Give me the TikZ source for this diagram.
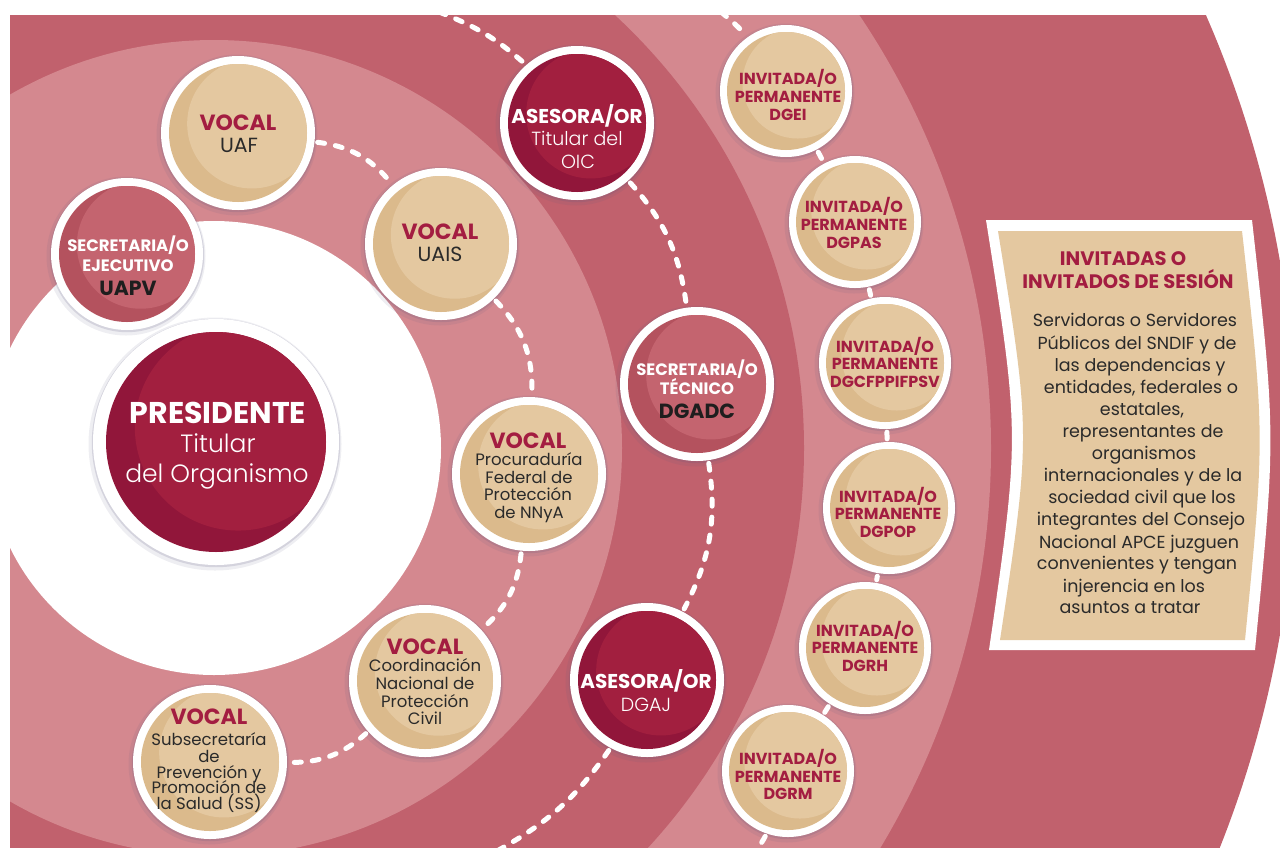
\documentclass[tikz,border=0pt]{standalone}
\usepackage{fontspec}
\setmainfont{Poppins}
\IfFontExistsTF{Poppins Light}{\newfontfamily\lightf{Poppins Light}}{\newfontfamily\lightf{Poppins}}
\usetikzlibrary{calc}
\definecolor{bdark}{HTML}{C1616D}
\definecolor{blight}{HTML}{D4888F}
\definecolor{beigeA}{HTML}{DBBA8C}
\definecolor{beigeB}{HTML}{E4C8A0}
\definecolor{marA}{HTML}{91163A}
\definecolor{marB}{HTML}{A21F3F}
\definecolor{roseA}{HTML}{B4525E}
\definecolor{roseB}{HTML}{C4646F}
\definecolor{tmar}{HTML}{A31D41}
\definecolor{tdark}{HTML}{2A2A2A}
\definecolor{tblack}{HTML}{1E1E1E}
\definecolor{boxfill}{HTML}{E4C8A0}
\definecolor{shc}{HTML}{5E5A80}
\tikzset{
 tx/.style={anchor=base, inner sep=0pt},
 vocal/.style={tx, text=tmar, font=\bfseries\fontsize{22}{22}\selectfont},
 vsub/.style={tx, text=tdark, font=\fontsize{20.5}{20.5}\selectfont},
 vsmall/.style={tx, text=tdark, font=\fontsize{16.5}{16.5}\selectfont},
 wbig/.style={tx, text=white, font=\bfseries\fontsize{30}{30}\selectfont},
 wmid/.style={tx, text=white, font=\lightf\fontsize{25}{25}\selectfont},
 wbold/.style={tx, text=white, font=\bfseries\fontsize{20}{20}\selectfont},
 wreg/.style={tx, text=white, font=\lightf\fontsize{19}{19}\selectfont},
 wsec/.style={tx, text=white, font=\bfseries\fontsize{16.5}{16.5}\selectfont},
 dsec/.style={tx, text=tblack, font=\bfseries\fontsize{20.5}{20.5}\selectfont},
 inv/.style={tx, text=tmar, font=\bfseries\fontsize{16}{16}\selectfont},
 btitle/.style={tx, text=tmar, font=\bfseries\fontsize{19.5}{19.5}\selectfont},
 bbody/.style={tx, text=tdark, font=\fontsize{17.5}{17.5}\selectfont},
 ringnode/.style={circle, fill=white, inner sep=0pt, minimum size=#1},
 dashline/.style={draw=white, line width=5pt, dash pattern=on 7pt off 11pt, line cap=round, shorten <=3pt, shorten >=3pt},
}
% name, x, y, R, ring, kind
\newcommand\bub[6]{%
  \fill[shc, opacity=.10] (#2-1,#3+2) circle[radius=#4+3.5];
  \fill[shc, opacity=.18] (#2,#3+1) circle[radius=#4+1.2];
  \node[ringnode=2*#4] (#1) at (#2,#3) {};
  \fill[#6A] (#1.center) circle[radius=#4-#5];
  \begin{scope}
    \clip (#1.center) circle[radius=#4-#5];
    \fill[#6B] ([shift={(0.18*#4,-0.12*#4)}]#1.center) circle[radius=0.84*#4];
  \end{scope}
}
\newcommand\tl[5]{\node[#1] (#2) at (#3,#4) {#5};}
\begin{document}
\begin{tikzpicture}[x=1pt,y=-1pt]
\useasboundingbox (0,0) rectangle (1280,847);
\begin{scope}
\clip (10,15) rectangle (1280,847);
% bands
\fill[bdark] (214,448) circle[radius=1082];
\fill[blight] (214,448) circle[radius=777];
\fill[bdark] (214,448) circle[radius=590];
\fill[blight] (214,448) circle[radius=408];
\fill[white] (214,448) circle[radius=227];

% bubbles
\bub{uapv}{127}{254}{76}{8}{rose}
\bub{uaf}{238}{133}{77}{8}{beige}
\bub{uais}{441}{244}{76}{8}{beige}
\bub{pres}{216}{442}{123}{13}{mar}
\bub{oic}{577}{123}{77}{8}{mar}
\bub{proc}{529}{474}{77}{8}{beige}
\bub{coord}{425}{681}{76}{8}{beige}
\bub{subs}{210}{762}{77}{8}{beige}
\bub{tec}{697}{384}{77}{8}{rose}
\bub{dgaj}{647}{680}{77}{8}{mar}
\bub{dgei}{786}{91}{66}{7}{beige}
\bub{dgpas}{855}{222}{66}{7}{beige}
\bub{dgcf}{885}{363}{66}{7}{beige}
\bub{dgpop}{889}{508}{66}{7}{beige}
\bub{dgrh}{865}{648}{66}{7}{beige}
\bub{dgrm}{788}{771}{66}{7}{beige}

% connectors
\coordinate (t1) at (439,12);
\coordinate (b1) at (497,851);
\coordinate (t2) at (721,12);
\coordinate (b2) at (756,851);
\draw[dashline] (uaf) to[bend left=22] (uais);
\draw[dashline] (uais) to[bend left=23] (proc);
\draw[dashline] (proc) to[bend left=21] (coord);
\draw[dashline] (coord) to[bend left=21] (subs);
\draw[dashline, shorten <=0pt] (t1) to[bend left=10] (oic);
\draw[dashline] (oic) to[bend left=17] (tec);
\draw[dashline] (tec) to[bend left=18] (dgaj);
\draw[dashline, shorten >=0pt] (dgaj) to[bend left=13] (b1);
\draw[dashline, shorten <=0pt] (t2) to[bend left=4] (dgei);
\draw[dashline] (dgei) -- (dgpas);
\draw[dashline] (dgpas) -- (dgcf);
\draw[dashline] (dgcf) -- (dgpop);
\draw[dashline] (dgpop) -- (dgrh);
\draw[dashline] (dgrh) -- (dgrm);
\draw[dashline, shorten >=0pt] (dgrm) to[bend left=3] (b2);

% texts
\tl{wsec}{uapv-1}{128}{251}{SECRETARIA/O}
\tl{wsec}{uapv-2}{128}{271}{EJECUTIVO}
\tl{dsec}{uapv-3}{128}{295}{UAPV}

\tl{vocal}{uaf-1}{238}{130}{VOCAL}
\tl{vsub}{uaf-2}{239}{152}{UAF}

\tl{vocal}{uais-1}{440}{239}{VOCAL}
\tl{vsub}{uais-2}{440}{261}{UAIS}

\tl{wbig}{pres-1}{218}{423.5}{PRESIDENTE}
\tl{wmid}{pres-2}{218}{452.5}{Titular}
\tl{wmid}{pres-3}{217}{482.5}{del Organismo}

\tl{wbold}{oic-1}{577}{123}{ASESORA/OR}
\tl{wreg}{oic-2}{577}{145.5}{Titular del}
\tl{wreg}{oic-3}{578}{168.5}{OIC}

\tl{vocal}{proc-1}{528}{448.5}{VOCAL}
\tl{vsmall}{proc-2}{529}{465}{Procuraduría}
\tl{vsmall}{proc-3}{529}{483}{Federal de}
\tl{vsmall}{proc-4}{528}{500}{Protección}
\tl{vsmall}{proc-5}{529}{518}{de NNyA}

\tl{vocal}{coord-1}{425}{654}{VOCAL}
\tl{vsmall}{coord-2}{425}{671}{Coordinación}
\tl{vsmall}{coord-3}{425}{689}{Nacional de}
\tl{vsmall}{coord-4}{425}{707}{Protección}
\tl{vsmall}{coord-5}{425}{724}{Civil}

\tl{vocal}{subs-1}{209}{724.5}{VOCAL}
\tl{vsmall}{subs-2}{209}{745}{Subsecretaría}
\tl{vsmall}{subs-3}{209}{762}{de}
\tl{vsmall}{subs-4}{209}{778}{Prevención y}
\tl{vsmall}{subs-5}{209}{793}{Promoción de}
\tl{vsmall}{subs-6}{209}{809}{la Salud (SS)}

\tl{wsec}{tec-1}{697}{375.5}{SECRETARIA/O}
\tl{wsec}{tec-2}{697}{394}{TÉCNICO}
\tl{dsec}{tec-3}{697}{418}{DGADC}

\tl{wbold}{dgaj-1}{646}{688.5}{ASESORA/OR}
\tl{wreg}{dgaj-2}{646}{711}{DGAJ}

\tl{inv}{dgei-1}{788}{84}{INVITADA/O}
\tl{inv}{dgei-2}{788}{102}{PERMANENTE}
\tl{inv}{dgei-3}{788}{120}{DGEI}
\tl{inv}{dgpas-1}{854}{212}{INVITADA/O}
\tl{inv}{dgpas-2}{854}{230}{PERMANENTE}
\tl{inv}{dgpas-3}{854}{248}{DGPAS}
\tl{inv}{dgcf-1}{885}{352}{INVITADA/O}
\tl{inv}{dgcf-2}{885}{369}{PERMANENTE}
\tl{inv}{dgcf-3}{885}{387}{DGCFPPIFPSV}
\tl{inv}{dgpop-1}{888}{502}{INVITADA/O}
\tl{inv}{dgpop-2}{888}{519}{PERMANENTE}
\tl{inv}{dgpop-3}{888}{537}{DGPOP}
\tl{inv}{dgrh-1}{865}{636}{INVITADA/O}
\tl{inv}{dgrh-2}{865}{653}{PERMANENTE}
\tl{inv}{dgrh-3}{865}{671}{DGRH}
\tl{inv}{dgrm-1}{788}{764}{INVITADA/O}
\tl{inv}{dgrm-2}{788}{782}{PERMANENTE}
\tl{inv}{dgrm-3}{788}{799}{DGRM}

% box
\fill[white] (986,220) -- (1252,220) .. controls (1276,435) .. (1255,650) -- (989,650) .. controls (1020,435) .. (986,220) -- cycle;
\fill[boxfill] (998,231) -- (1242,231) .. controls (1265,435) .. (1245,640) -- (1000,640) .. controls (1031,435) .. (998,231) -- cycle;

\tl{btitle}{bx-t1}{1123}{265}{INVITADAS O}
\tl{btitle}{bx-t2}{1128}{288}{INVITADOS DE SESIÓN}
\tl{bbody}{bx-1}{1135}{326}{Servidoras o Servidores}
\tl{bbody}{bx-2}{1137}{349}{Públicos del SNDIF y de}
\tl{bbody}{bx-3}{1140}{371}{las dependencias y}
\tl{bbody}{bx-4}{1141}{393}{entidades, federales o}
\tl{bbody}{bx-5}{1142}{415}{estatales,}
\tl{bbody}{bx-6}{1143}{437}{representantes de}
\tl{bbody}{bx-7}{1144}{459}{organismos}
\tl{bbody}{bx-8}{1143}{481}{internacionales y de la}
\tl{bbody}{bx-9}{1142}{503}{sociedad civil que los}
\tl{bbody}{bx-10}{1141}{525}{integrantes del Consejo}
\tl{bbody}{bx-11}{1139}{548}{Nacional APCE juzguen}
\tl{bbody}{bx-12}{1137}{569}{convenientes y tengan}
\tl{bbody}{bx-13}{1134}{592}{injerencia en los}
\tl{bbody}{bx-14}{1130}{613}{asuntos a tratar}
\end{scope}
\end{tikzpicture}
\end{document}
